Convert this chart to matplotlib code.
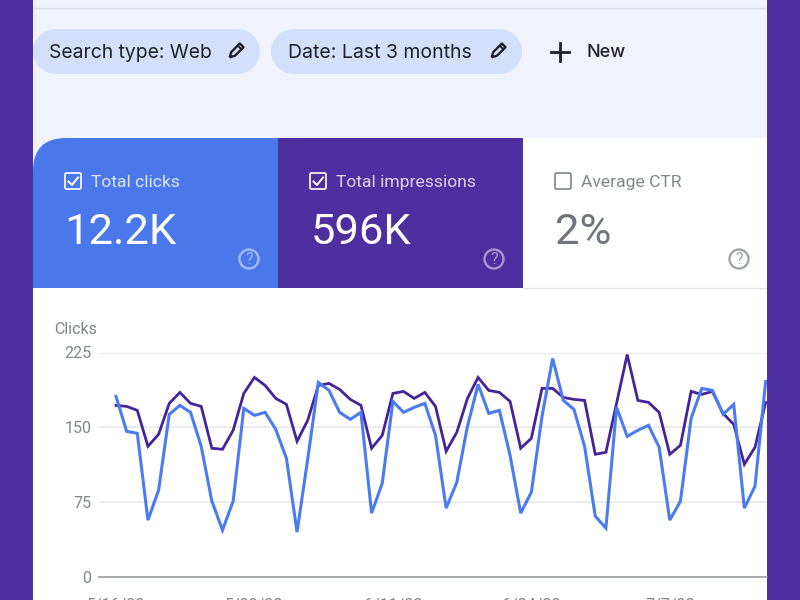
"""
Search Console performance panel, clicks and impressions by day.
Page furniture is drawn in pixel coordinates on a full figure axes.
"""

import numpy as np
import matplotlib
matplotlib.use("Agg")
import matplotlib.pyplot as plt
from matplotlib.patches import FancyBboxPatch, Rectangle, Circle, PathPatch
from matplotlib.path import Path

# ==== Data =========================================================
clicks = [181, 146, 144, 57, 87, 163, 172, 165, 131, 76, 47, 76, 169, 162, 165, 148,
          119, 45, 118, 195, 187, 165, 158, 165, 64, 94, 176, 165, 170, 174, 142, 69,
          95, 151, 193, 164, 167, 122, 64, 85, 161, 219, 177, 168, 131, 61, 49, 170,
          141, 147, 152, 130, 57, 76, 159, 189, 187, 163, 173, 69, 91, 196]
impressions = [172, 171, 167, 131, 143, 174, 185, 174, 171, 129, 128, 147, 184, 200, 192, 179,
               173, 136, 157, 192, 194, 188, 178, 172, 129, 142, 184, 186, 179, 185, 171, 126,
               145, 179, 200, 187, 185, 176, 129, 139, 189, 189, 180, 178, 177, 123, 125, 174,
               223, 177, 175, 165, 123, 132, 186, 183, 186, 164, 153, 113, 130, 175]
y_ticks = [0, 75, 150, 225]
x_tick_days = [0, 13, 26, 39, 52]
x_tick_labels = ["5/16/22", "5/29/22", "6/11/22", "6/24/22", "7/7/22"]

PURPLE = "#4e2fa0"
BLUE = "#4a78ea"
PAGE = "#f1f3fc"
CHIP = "#d2e0fb"
GREY = "#80868b"
INK = "#202124"
SANS = ["Roboto", "DejaVu Sans"]
CHIP_FONT = ["Inter", "Roboto", "DejaVu Sans"]

fig = plt.figure(figsize=(8, 6), dpi=100, facecolor="white")

# full figure axes, 1 unit = 1 pixel, y pointing down
bg = fig.add_axes([0, 0, 1, 1])
bg.set_xlim(0, 800)
bg.set_ylim(600, 0)
bg.axis("off")


def rect(ax, x, y, w, h, color, z=1):
	ax.add_patch(Rectangle((x, y), w, h, facecolor=color, edgecolor="none", zorder=z))


def chip(ax, x, y, w, h):
	r = h / 2.0
	ax.add_patch(Circle((x + r, y + r), r, facecolor=CHIP, edgecolor="none", zorder=2))
	ax.add_patch(Circle((x + w - r, y + r), r, facecolor=CHIP, edgecolor="none", zorder=2))
	rect(ax, x + r, y, w - 2 * r, h, CHIP, 2)


def pencil(ax, cx, cy):
	# outline of a slanted pencil with the tip at lower left
	u = np.array([0.707, -0.707])
	v = np.array([0.707, 0.707])
	c = np.array([cx, cy])
	pts = [c - 9 * u, c - 4 * u + 2.6 * v, c + 8 * u + 2.6 * v, c + 8 * u - 2.6 * v, c - 4 * u - 2.6 * v, c - 9 * u]
	ax.add_patch(PathPatch(Path(pts), facecolor="none", edgecolor=INK, lw=1.7, joinstyle="round", zorder=4))
	ax.plot(*zip(c + 5 * u + 2.6 * v, c + 5 * u - 2.6 * v), color=INK, lw=1.3, zorder=4)


def checkbox(ax, x, y, color, checked=True):
	ax.add_patch(FancyBboxPatch((x + 1, y + 1), 16, 16, boxstyle="round,pad=0,rounding_size=1.5",
								facecolor="none", edgecolor=color, lw=1.2, zorder=4))
	if checked:
		ax.plot([x + 4.5, x + 8, x + 14], [y + 9.5, y + 13, y + 5.5], color=color, lw=1.4, zorder=4)


def help_icon(ax, cx, cy, color):
	ax.add_patch(Circle((cx, cy), 9.5, facecolor="none", edgecolor=color, lw=1.7, zorder=4))
	ax.text(cx, cy + 0.5, "?", color=color, fontsize=11.5, family=SANS, ha="center", va="center", zorder=4)


# page background and side bands
rect(bg, 33, 0, 734, 138, PAGE, 0)
bg.plot([33, 767], [7.5, 7.5], color="#dcdfe6", lw=0.9, zorder=1)
rect(bg, 0, 0, 33, 600, PURPLE, 6)
rect(bg, 767, 0, 33, 600, PURPLE, 6)

# filter chips
chip(bg, 33, 29, 227, 45)
chip(bg, 271, 29, 251, 45)
bg.text(49, 52.5, "Search type: Web", color=INK, fontsize=13.9, family=CHIP_FONT, va="center")
bg.text(288, 52.5, "Date: Last 3 months", color=INK, fontsize=14, family=CHIP_FONT, va="center")
pencil(bg, 236, 51)
pencil(bg, 498, 51)
bg.plot([551, 569], [51.5, 51.5], color=INK, lw=2, zorder=4)
bg.plot([560, 560], [42.5, 60.5], color=INK, lw=2, zorder=4)
bg.text(587, 52.5, "New", color=INK, fontsize=13, family=CHIP_FONT, weight="medium", va="center")

# metric cards
rect(bg, 33, 138, 245, 150, BLUE, 1)
# corner cut of the first card
corner = Path([(33, 138), (66, 138), (33, 138), (33, 171), (33, 138)],
			  [Path.MOVETO, Path.LINETO, Path.CURVE3, Path.CURVE3, Path.CLOSEPOLY])
bg.add_patch(PathPatch(corner, facecolor=PAGE, edgecolor="none", zorder=2))
rect(bg, 278, 138, 245, 150, PURPLE, 1)
bg.plot([523, 767], [288, 288], color="#e2e4e8", lw=1, zorder=1)

checkbox(bg, 64, 172, "white")
checkbox(bg, 309, 172, "white")
checkbox(bg, 554, 172, GREY, checked=False)
bg.text(91, 182.5, "Total clicks", color="#dbe5fb", fontsize=12.6, family=SANS, va="center")
bg.text(336, 182.5, "Total impressions", color="#dcd5ee", fontsize=12.6, family=SANS, va="center")
bg.text(581, 182.5, "Average CTR", color=GREY, fontsize=12.6, family=SANS, va="center")
bg.text(64.5, 232, "12.2K", color="white", fontsize=31.3, family=SANS, va="center")
bg.text(310.5, 232, "596K", color="white", fontsize=31.3, family=SANS, va="center")
bg.text(555, 232, "2%", color="#6f757b", fontsize=31.3, family=SANS, va="center")
help_icon(bg, 249, 259, "#a3bcf5")
help_icon(bg, 494, 259, "#a797d0")
help_icon(bg, 739, 259, "#a0a4a8")

# ==== The chart itself =============================================
# axes spans pixels x 99..767 and y 352.5..577, day 0 sits at pixel 116
px_per_day = 10.65
ax = fig.add_axes([99 / 800.0, (600 - 577) / 600.0, 668 / 800.0, 224.5 / 600.0])
ax.patch.set_alpha(0)
ax.set_xlim(-17 / px_per_day, (767 - 116) / px_per_day)
ax.set_ylim(0, 225)
days = np.arange(len(clicks))
ax.plot(days, impressions, color="#45249a", lw=2, solid_joinstyle="miter", zorder=3)
ax.plot(days, clicks, color="#4a7cf0", lw=2.2, solid_joinstyle="miter", zorder=4)

for side in ["top", "right", "left"]:
	ax.spines[side].set_visible(False)
ax.spines["bottom"].set_color("#9a9da1")
ax.spines["bottom"].set_linewidth(1.2)
ax.set_yticks(y_ticks)
ax.set_yticklabels(y_ticks, color=GREY, fontsize=11.5, family=SANS)
ax.set_xticks(x_tick_days)
ax.set_xticklabels(x_tick_labels, color=GREY, fontsize=11.5, family=SANS)
ax.tick_params(axis="both", length=0)
ax.tick_params(axis="y", pad=5.5)
ax.tick_params(axis="x", pad=15)
ax.grid(axis="y", color="#ebebec", lw=1.3, zorder=0)
ax.set_axisbelow(True)
bg.text(54, 330, "Clicks", color=GREY, fontsize=11.5, family=SANS, va="center")

fig.savefig("out.png", dpi=100)
